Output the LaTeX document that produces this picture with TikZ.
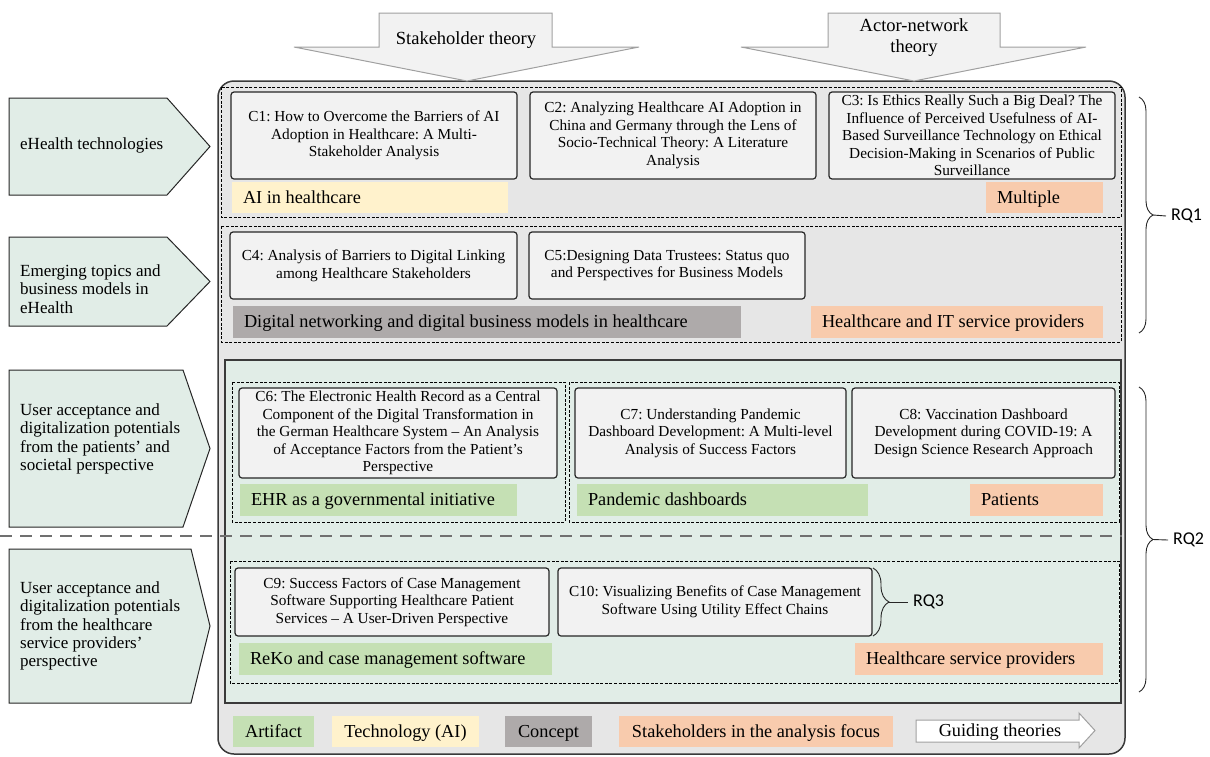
\documentclass[tikz,border=0pt]{standalone}
\usepackage{fontspec}
\setmainfont{Liberation Serif}
\newfontfamily\rqfont{Carlito}
\usetikzlibrary{decorations.pathreplacing}
\frenchspacing

\definecolor{frameline}{HTML}{3A3A3A}
\definecolor{framefill}{HTML}{E6E6E6}
\definecolor{boxfill}{HTML}{F2F2F2}
\definecolor{boxline}{HTML}{262626}
\definecolor{mint}{HTML}{E1EDE7}
\definecolor{artifact}{HTML}{C5E0B4}
\definecolor{techno}{HTML}{FFF2CC}
\definecolor{concept}{HTML}{AEAAAA}
\definecolor{holder}{HTML}{F8CBAD}
\definecolor{theoryline}{HTML}{A0A0A0}
\definecolor{sepline}{HTML}{707070}

% left-aligned label of a given width inside a coloured bar
\newcommand{\barlabel}[2]{\makebox[#1][l]{#2}}

\begin{document}
\begin{tikzpicture}[x=1pt,y=-1pt,
  paper/.style={draw=boxline, fill=boxfill, rounded corners=3pt, line width=1.2pt,
    inner sep=0pt, align=center, font=\fontsize{15.3}{17.6}\selectfont},
  group/.style={draw=black, line width=0.9pt, dash pattern=on 3pt off 1.6pt},
  bar/.style={inner sep=0pt, inner xsep=11pt, minimum height=32pt,
    text height=14pt, text depth=3pt, font=\fontsize{18.3}{20}\selectfont},
  legend/.style={inner sep=0pt, minimum height=31pt, align=center,
    text height=14pt, text depth=3pt, font=\fontsize{18.3}{20}\selectfont},
  topic/.style={draw=boxline, fill=mint, line width=1pt},
  topiclabel/.style={anchor=west, inner sep=0pt, align=left,
    font=\fontsize{17}{18.3}\selectfont},
  theory/.style={draw=theoryline, fill=boxfill, line width=1pt},
  theorylabel/.style={inner sep=0pt, align=center, font=\fontsize{18.5}{21}\selectfont},
  rqbrace/.style={draw=black!85, line width=0.9pt, decorate},
  rqlabel/.style={anchor=west, inner sep=0pt, font=\rqfont\fontsize{18}{20}\selectfont}
]
\useasboundingbox (0,0) rectangle (1210,756);

% outer frame
\draw[draw=frameline, fill=framefill, line width=1.5pt, rounded corners=16pt]
  (218,81) rectangle (1125,754);

% guiding theories from above
\draw[theory] (379,13) -- (552,13) -- (552,47) -- (639,47) -- (467,81) -- (294,47) -- (379,47) -- cycle;
\node[theorylabel] (stake) at (466,40) {Stakeholder theory};
\draw[theory] (828,13) -- (1000,13) -- (1000,47) -- (1086,47) -- (914,81) -- (741,47) -- (828,47) -- cycle;
\node[theorylabel] (ant) at (914,38) {Actor-network\\theory};

% research streams on the left
\draw[topic] (9,98) -- (167,98) -- (210,146.5) -- (167,195) -- (9,195) -- cycle;
\node[topiclabel] (t1) at (20,145) {eHealth technologies};
\draw[topic] (9,237) -- (167,237) -- (210,281.5) -- (167,326) -- (9,326) -- cycle;
\node[topiclabel] (t2) at (20,289) {Emerging topics and\\business models in\\eHealth};
\draw[topic] (9,370) -- (183,370) -- (210,448.5) -- (183,527) -- (9,527) -- cycle;
\node[topiclabel] (t3) at (20,439) {User acceptance and\\digitalization potentials\\from the patients’ and\\societal perspective};
\draw[topic] (9,549) -- (191,549) -- (210,626) -- (191,703) -- (9,703) -- cycle;
\node[topiclabel] (t4) at (20,626) {User acceptance and\\digitalization potentials\\from the healthcare\\service providers’\\perspective};

% stream 1: eHealth technologies
\draw[group] (221,87) rectangle (1121,217);
\node[paper, minimum width=286pt, minimum height=87pt] (c1) at (374,135.5)
  {C1: How to Overcome the Barriers of AI\\Adoption in Healthcare: A Multi-\\Stakeholder Analysis};
\node[paper, minimum width=286pt, minimum height=87pt] (c2) at (673,135.5)
  {C2: Analyzing Healthcare AI Adoption in\\China and Germany through the Lens of\\Socio-Technical Theory: A Literature\\Analysis};
\node[paper, minimum width=286pt, minimum height=87pt] (c3) at (972,135.5)
  {C3: Is Ethics Really Such a Big Deal? The\\Influence of Perceived Usefulness of AI-\\Based Surveillance Technology on Ethical\\Decision-Making in Scenarios of Public\\Surveillance};
\node[bar, fill=techno, minimum height=31pt] (ai) at (370,197.5) {\barlabel{254pt}{AI in healthcare}};
\node[bar, fill=holder, minimum height=31pt] (multi) at (1044.5,197.5) {\barlabel{95pt}{Multiple}};

% stream 2: emerging topics
\draw[group] (221,226) rectangle (1121,342);
\node[paper, minimum width=287pt, minimum height=67pt] (c4) at (373.5,265.5)
  {C4: Analysis of Barriers to Digital Linking\\among Healthcare Stakeholders};
\node[paper, minimum width=276pt, minimum height=67pt] (c5) at (667,265.5)
  {C5:Designing Data Trustees: Status quo\\and Perspectives for Business Models};
\node[bar, fill=concept] (dn) at (487,322) {\barlabel{486pt}{Digital networking and digital business models in healthcare}};
\node[bar, fill=holder] (itp) at (957,322) {\barlabel{270pt}{Healthcare and IT service providers}};

% streams 3 and 4: user acceptance
\draw[draw=frameline, fill=mint, line width=1.3pt] (225,360) rectangle (1121,703);
\draw[group] (232,382) rectangle (565,522);
\draw[group] (569,382) rectangle (1119,522);
\node[paper, minimum width=318pt, minimum height=90pt] (c6) at (398,433)
  {C6: The Electronic Health Record as a Central\\Component of the Digital Transformation in\\the German Healthcare System – An Analysis\\of Acceptance Factors from the Patient’s\\Perspective};
\node[paper, minimum width=271pt, minimum height=90pt] (c7) at (710.5,433)
  {C7: Understanding Pandemic\\Dashboard Development: A Multi-level\\Analysis of Success Factors};
\node[paper, minimum width=263pt, minimum height=90pt] (c8) at (983.5,433)
  {C8: Vaccination Dashboard\\Development during COVID-19: A\\Design Science Research Approach};
\node[bar, fill=artifact] (ehr) at (378.5,500) {\barlabel{255pt}{EHR as a governmental initiative}};
\node[bar, fill=artifact] (pd) at (722.5,500) {\barlabel{269pt}{Pandemic dashboards}};
\node[bar, fill=holder] (pat) at (1036.5,500) {\barlabel{111pt}{Patients}};

\draw[draw=sepline, line width=2.5pt, dash pattern=on 12pt off 8pt] (0,536) -- (1122,536);

\draw[group] (230,561) rectangle (1119,683);
\node[paper, minimum width=314pt, minimum height=68pt] (c9) at (392,602)
  {C9: Success Factors of Case Management\\Software Supporting Healthcare Patient\\Services – A User-Driven Perspective};
\node[paper, minimum width=314pt, minimum height=68pt] (c10) at (715,602)
  {C10: Visualizing Benefits of Case Management\\Software Using Utility Effect Chains};
\node[bar, fill=artifact] (reko) at (395.5,659) {\barlabel{291pt}{ReKo and case management software}};
\node[bar, fill=holder] (hsp) at (979,659) {\barlabel{226pt}{Healthcare service providers}};

% legend
\node[legend, fill=artifact, minimum width=81pt] (lg1) at (273.5,731.5) {Artifact};
\node[legend, fill=techno, minimum width=147pt] (lg2) at (405.5,731.5) {Technology (AI)};
\node[legend, fill=concept, minimum width=87pt] (lg3) at (548.5,731.5) {Concept};
\node[legend, fill=holder, minimum width=274pt] (lg4) at (756,731.5) {Stakeholders in the analysis focus};
\draw[theory, fill=white] (916,720) -- (1079,720) -- (1079,713) -- (1095,730.5) -- (1079,748) -- (1079,742) -- (916,742) -- cycle;
\node[inner sep=0pt, text height=14pt, text depth=3pt, font=\fontsize{18.3}{20}\selectfont] (lg5) at (1000,731) {Guiding theories};

% research questions
\draw[rqbrace, decoration={brace, amplitude=14pt}] (1139,97) -- (1139,333);
\coordinate (rq1tip) at (1153,215);
\node[rqlabel] (rq1) at (1171,216) {RQ1};
\draw[draw=black!85, line width=0.9pt] (rq1tip) -- ([xshift=-5pt]rq1.west);

\draw[rqbrace, decoration={brace, amplitude=14pt}] (1139,387) -- (1139,692);
\coordinate (rq2tip) at (1153,539.5);
\node[rqlabel] (rq2) at (1173,540) {RQ2};
\draw[draw=black!85, line width=0.9pt] (rq2tip) -- ([xshift=-5pt]rq2.west);

\draw[rqbrace, decoration={brace, amplitude=16pt}] (873,568) -- (873,636);
\coordinate (rq3tip) at (889,602);
\node[rqlabel] (rq3) at (913,602) {RQ3};
\draw[draw=black!85, line width=0.9pt] (rq3tip) -- ([xshift=-5pt]rq3.west);
\end{tikzpicture}
\end{document}
